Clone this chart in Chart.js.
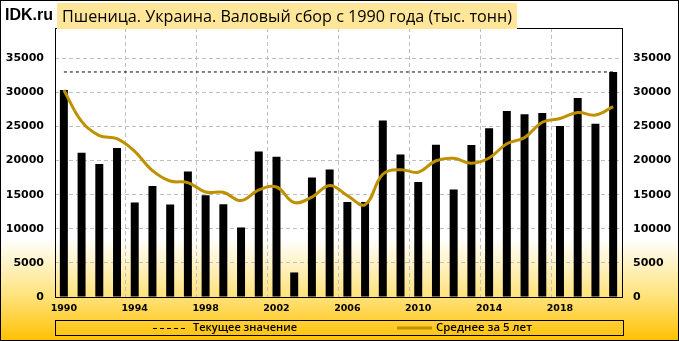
<!DOCTYPE html>
<html>
<head>
<meta charset="utf-8">
<script src="https://cdn.jsdelivr.net/npm/chart.js@4.4.0/dist/chart.umd.min.js"></script>
<style>
  html, body { margin: 0; padding: 0; background: #fff; }
  #wrap { width: 679px; height: 341px; }
</style>
</head>
<body>
<div id="wrap"><canvas id="chart" width="679" height="341"></canvas></div>
<script>
// Годы
const years = ['1990', '1991', '1992', '1993', '1994', '1995', '1996', '1997', '1998', '1999',
  '2000', '2001', '2002', '2003', '2004', '2005', '2006', '2007', '2008', '2009',
  '2010', '2011', '2012', '2013', '2014', '2015', '2016', '2017', '2018', '2019',
  '2020', '2021'];

// Валовый сбор, тыс. тонн
const harvest = [30370, 21150, 19510, 21840, 13860, 16270, 13550, 18400, 14940, 13590,
  10200, 21350, 20560, 3600, 17520, 18700, 13950, 13940, 25890, 20890,
  16850, 22320, 15760, 22280, 24750, 27280, 26800, 26980, 25060, 29170,
  25420, 33000];

// Среднее за 5 лет
const avg5 = [30370, 25760, 23680, 23220, 21350, 18530, 17010, 16780, 15400, 15350,
  14140, 15700, 16130, 13860, 14650, 16350, 14870, 13540, 18000, 18670,
  18300, 19980, 20340, 19620, 20390, 22480, 23370, 25620, 26170, 27060,
  26690, 27930];

// Текущее значение
const currentValue = 33000;

const yTicks = [0, 5000, 10000, 15000, 20000, 25000, 30000, 35000];

const titleText = 'Пшеница. Украина. Валовый сбор с 1990 года (тыс. тонн)';
const gold = '#BF9000';
const gridGray = '#BFBFBF';
const tickFont = { family: 'DejaVu Sans', weight: 'bold', size: 11 };

// фон, заголовок, рамка и легенда
const decor = {
  id: 'decor',
  beforeDraw(chart) {
    const ctx = chart.ctx;
    const g = ctx.createLinearGradient(0, 0, 0, 341);
    g.addColorStop(0, '#FFFFFF');
    g.addColorStop(0.70, '#FFFFFF');
    g.addColorStop(0.87, '#FFE27A');
    g.addColorStop(1, '#FFC000');
    ctx.save();
    ctx.fillStyle = g;
    ctx.fillRect(0, 0, chart.width, chart.height);
    ctx.restore();
  },
  afterDraw(chart) {
    const ctx = chart.ctx;
    const a = chart.chartArea;
    ctx.save();
    // рамка области построения
    ctx.strokeStyle = '#000';
    ctx.lineWidth = 1;
    ctx.strokeRect(Math.round(a.left) + 0.5, Math.round(a.top) + 0.5,
      Math.round(a.right - a.left), Math.round(a.bottom - a.top));

    // заголовок
    ctx.fillStyle = '#FFE699';
    ctx.fillRect(57, 3, 460, 26);
    ctx.fillStyle = '#000';
    ctx.textBaseline = 'middle';
    ctx.textAlign = 'left';
    ctx.font = '17px "Open Sans"';
    ctx.fillText(titleText, 62, 17, 450);
    ctx.font = 'bold 16px "Liberation Sans"';
    ctx.fillText('IDK.ru', 5, 16, 49);

    // легенда
    ctx.strokeRect(55.5, 320.5, 568, 15);
    ctx.beginPath();
    ctx.setLineDash([4, 3]);
    ctx.moveTo(153, 328.5);
    ctx.lineTo(187, 328.5);
    ctx.stroke();
    ctx.setLineDash([]);
    ctx.font = '600 11.5px "Open Sans"';
    ctx.fillText('Текущее значение', 193, 328, 104);
    ctx.strokeStyle = gold;
    ctx.lineWidth = 3;
    ctx.beginPath();
    ctx.moveTo(397, 328);
    ctx.lineTo(432, 328);
    ctx.stroke();
    ctx.fillText('Среднее за 5 лет', 436, 328, 96);

    // внешняя рамка
    ctx.strokeStyle = '#000';
    ctx.lineWidth = 1;
    ctx.strokeRect(0.5, 0.5, chart.width - 1, chart.height - 1);
    ctx.restore();
  }
};

const onlyTicks = scale => { scale.ticks = yTicks.map(v => ({ value: v })); };

new Chart(document.getElementById('chart').getContext('2d'), {
  type: 'bar',
  data: {
    labels: years,
    datasets: [
      {
        type: 'line',
        label: 'Среднее за 5 лет',
        data: avg5,
        borderColor: gold,
        borderWidth: 3,
        pointRadius: 0,
        tension: 0.4,
        fill: false,
        order: 0
      },
      {
        type: 'line',
        label: 'Текущее значение',
        data: years.map(() => currentValue),
        borderColor: '#000',
        borderWidth: 1,
        borderDash: [3, 3],
        pointRadius: 0,
        fill: false,
        order: 1
      },
      {
        label: 'Валовый сбор',
        data: harvest,
        backgroundColor: '#000',
        barPercentage: 0.9,
        categoryPercentage: 0.5,
        order: 2
      }
    ]
  },
  options: {
    responsive: false,
    animation: false,
    layout: { padding: { top: 28, left: 0, right: 0, bottom: 0 } },
    plugins: {
      legend: { display: false },
      title: { display: false },
      tooltip: { enabled: false }
    },
    scales: {
      x: {
        offset: true,
        grid: {
          offset: true,
          drawTicks: false,
          color: c => (c.index % 4 === 0 && c.index > 0 && c.index < years.length) ? gridGray : 'transparent'
        },
        border: { display: false, dash: [4, 3] },
        ticks: {
          autoSkip: false,
          maxRotation: 0,
          padding: 6,
          color: '#000',
          font: { family: 'DejaVu Sans', weight: 'bold', size: 9.5 },
          callback: (v, i) => (i % 4 === 0 ? years[i] : '')
        },
        afterFit: s => { s.height = 44; }
      },
      y: {
        position: 'left',
        min: 0,
        max: 39450,
        afterBuildTicks: onlyTicks,
        grid: {
          drawTicks: false,
          color: c => (c.tick && c.tick.value > 0) ? gridGray : 'transparent'
        },
        border: { display: false, dash: [4, 3] },
        ticks: { padding: 11, color: '#000', font: tickFont, callback: v => String(v) },
        afterFit: s => { s.width = 55; }
      },
      y2: {
        position: 'right',
        min: 0,
        max: 39450,
        afterBuildTicks: onlyTicks,
        grid: { display: false, drawTicks: false },
        border: { display: false },
        ticks: { padding: 11, color: '#000', font: tickFont, callback: v => String(v) },
        afterFit: s => { s.width = 57; }
      }
    }
  },
  plugins: [decor]
});
</script>
</body>
</html>
